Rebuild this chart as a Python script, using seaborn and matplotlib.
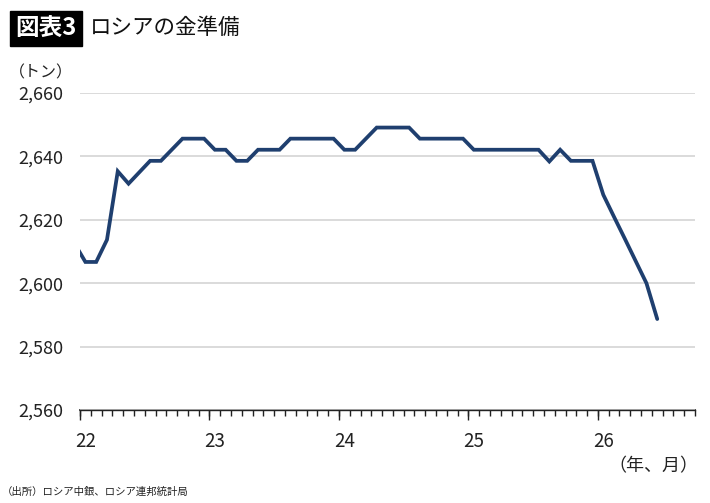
import matplotlib
matplotlib.use("Agg")
import matplotlib.pyplot as plt
import seaborn as sns
import pandas as pd
import numpy as np

# month index: 0 = Jan 2022 (point drawn at mid-month), -1 = Dec 2021 (clipped)
months = list(range(-1, 54))
gold_tonnes = [
    2612.5,
    2606.7, 2606.7, 2613.7, 2635.3, 2631.4, 2635.0, 2638.6, 2638.6, 2642.1, 2645.6, 2645.6, 2645.6,  # 2022
    2642.1, 2642.1, 2638.6, 2638.6, 2642.1, 2642.1, 2642.1, 2645.6, 2645.6, 2645.6, 2645.6, 2645.6,  # 2023
    2642.1, 2642.1, 2645.6, 2649.1, 2649.1, 2649.1, 2649.1, 2645.6, 2645.6, 2645.6, 2645.6, 2645.6,  # 2024
    2642.1, 2642.1, 2642.1, 2642.1, 2642.1, 2642.1, 2642.1, 2638.4, 2642.1, 2638.6, 2638.6, 2638.6,  # 2025
    2627.9, 2620.9, 2614.0, 2607.0, 2600.0, 2588.7,  # 2026
]
year_labels = ["22", "23", "24", "25", "26"]
y_ticks = [2560, 2580, 2600, 2620, 2640, 2660]

df = pd.DataFrame({"month": months, "value": gold_tonnes})

sns.set_theme(style="white")
plt.rcParams["font.family"] = ["Noto Sans CJK JP", "DejaVu Sans"]

fig = plt.figure(figsize=(7.10, 5.03), dpi=100)
ax = fig.add_axes([80 / 710, 1 - 410 / 503, 615 / 710, (410 - 93) / 503])

sns.lineplot(data=df, x="month", y="value", ax=ax, color="#1f3f6f",
             linewidth=2.7, clip_on=True, solid_joinstyle="miter")

ax.set_xlim(-0.5, 56.5)
ax.set_ylim(2560, 2660)
ax.set_xlabel("")
ax.set_ylabel("")

# y axis
ax.set_yticks(y_ticks)
ax.set_yticklabels([f"{v:,}" for v in y_ticks], fontsize=13, color="#222222")
ax.yaxis.grid(True, color="#d4d4d4", linewidth=1.2)
ax.tick_params(axis="y", length=0, pad=12)

# x axis: labels at January, minor ticks at month boundaries
label_pos = [12 * i for i in range(len(year_labels))]
ax.set_xticks(label_pos)
ax.set_xticklabels(year_labels, fontsize=13.5, color="#222222")
ax.set_xticks(np.arange(-0.5, 57, 1), minor=True)
ax.tick_params(axis="x", which="major", bottom=True, length=0, pad=15)
ax.tick_params(axis="x", which="minor", bottom=True, length=4, width=1,
               color="#222222", direction="out")
ax.xaxis.grid(False)

# taller ticks at year boundaries
sec = ax.secondary_xaxis("bottom")
sec.set_xticks([12 * i - 0.5 for i in range(5)])
sec.set_xticklabels([])
sec.tick_params(bottom=True, length=7, width=1, color="#222222", direction="out")
sec.spines["bottom"].set_color("#222222")

for s in ["top", "right", "left"]:
    ax.spines[s].set_visible(False)
ax.spines["bottom"].set_color("#222222")
ax.spines["bottom"].set_linewidth(1)

# title
fig.text(15 / 710, 1 - 28.5 / 503, "図表3", fontsize=17, fontweight="bold", color="white",
         va="center", ha="left",
         bbox=dict(boxstyle="square,pad=0.22", facecolor="black", edgecolor="black"))
fig.text(90 / 710, 1 - 28 / 503, "ロシアの金準備", fontsize=15.5, color="#111111",
         va="center", ha="left")

fig.text(41 / 710, 1 - 73 / 503, "（トン）", fontsize=11.5, color="#222222", va="center", ha="center")
fig.text(698 / 710, 1 - 466 / 503, "（年、月）", fontsize=13, color="#222222", va="center", ha="right")
fig.text(2 / 710, 1 - 492 / 503, "（出所）ロシア中銀、ロシア連邦統計局", fontsize=7.5, color="#222222",
         va="center", ha="left")

fig.savefig("out.png", dpi=100, facecolor="white")
